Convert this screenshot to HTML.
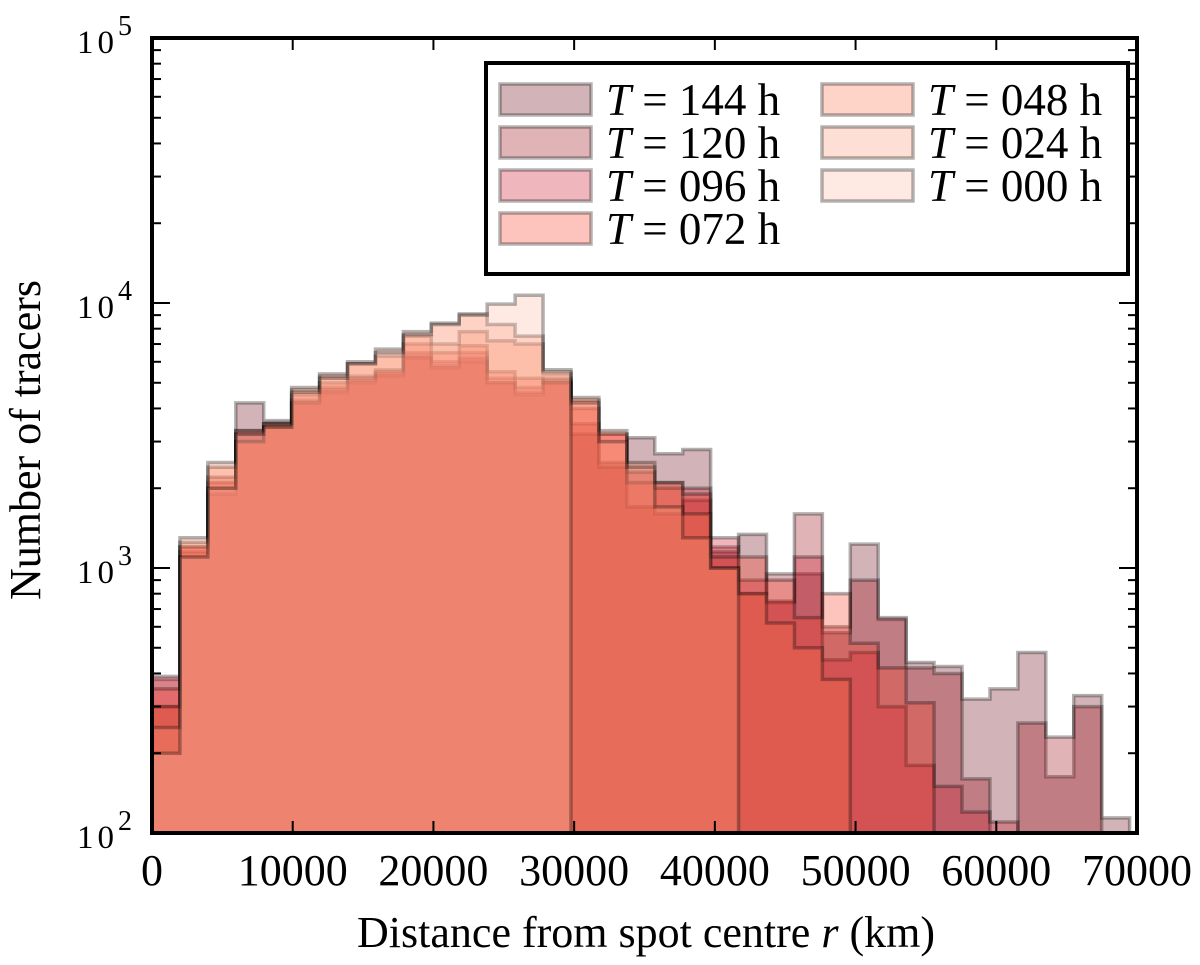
<!DOCTYPE html>
<html><head><meta charset="utf-8"><style>
html,body{margin:0;padding:0;background:#fff;}
svg{display:block;font-family:"Liberation Serif",serif;}
</style></head><body>
<svg width="1200" height="965" viewBox="0 0 1200 965" id="chart">
<defs><clipPath id="plotclip"><rect x="152" y="38" width="985" height="795"/></clipPath></defs>
<g id="series" clip-path="url(#plotclip)"></g>
<g id="ticks"></g>
<rect x="152" y="38" width="985" height="795" fill="none" stroke="#000" stroke-width="4"/>
<g id="labels"></g>
<text x="646" y="947" text-anchor="middle" font-size="44">Distance from spot centre <tspan font-style="italic">r</tspan> (km)</text>
<text transform="translate(40,440) rotate(-90)" text-anchor="middle" font-size="44">Number of tracers</text>
<g id="legend">
<rect x="486" y="63" width="642" height="211" fill="#fff" stroke="#000" stroke-width="4"/>
</g>
</svg>
<script>
const labels = ["T = 144 h","T = 120 h","T = 096 h","T = 072 h","T = 048 h","T = 024 h","T = 000 h"];
const colors = ["#69020f","#980212","#ca1223","#f83723","#fc7048","#fc9473","#ffb9a2"];
const binWidth = 1985;
const t144 = [300,1100,2000,4200,3600,4300,4700,5100,5400,6200,5700,6000,5000,4500,5000,3200,2500,3100,2700,2800,1150,1340,740,950,570,1230,640,440,425,320,350,480,163,330,114];
const t120 = [380,1150,1900,3200,3500,4200,4600,5000,5300,6300,5800,6200,5000,4600,5100,3500,2400,1700,1600,1800,1200,800,950,1600,600,900,650,420,400,160,100,260,230,300];
const t096 = [390,1200,2100,3300,3400,4200,4800,5300,5500,6500,6000,6500,5200,4800,5200,4000,3200,2300,2100,2000,1300,900,750,1100,450,480,300,180,150,120,110];
const t072 = [350,1200,2200,3000,3400,4500,5000,5200,5600,7000,6500,6900,5500,5200,5000,4300,3200,2100,2000,1900,1100,1100,900,650,800,520,420,310];
const t048 = [300,1250,2400,3000,3500,4700,5300,5900,6300,7500,7000,7800,7200,7000,5400,4400,3300,2500,2100,1600,1000,800,620,500,380];
const t024 = [250,1300,2500,3300,3500,4800,5400,6000,6700,7800,8400,9100,8300,7500,5500,4200,3000,2400,1700,1300,1000];
const t000 = [200,1100,2000,3200,3400,4600,5200,5900,6500,7600,8300,9000,9900,10700,5600];
const seriesData = [t144,t120,t096,t072,t048,t024,t000];
const xTicks = [0,10000,20000,30000,40000,50000,60000,70000];
const yDecades = [2,3,4,5];

const NS="http://www.w3.org/2000/svg";
const X0=152,X1=1137,Y0=833,Y1=38;
function xs(v){return X0+v*(X1-X0)/70000;}
function ys(v){return Y0-(Y0-Y1)/3*Math.log10(v/100);}
function mk(tag,attrs,parent){const e=document.createElementNS(NS,tag);for(const k in attrs)e.setAttribute(k,attrs[k]);parent.appendChild(e);return e;}
const gS=document.getElementById('series');
seriesData.forEach((vals,si)=>{
  let d="M"+xs(0)+",900";
  vals.forEach((v,i)=>{const y=ys(Math.max(v,1));d+=" L"+xs(i*binWidth)+","+y+" L"+xs((i+1)*binWidth)+","+y;});
  d+=" L"+xs(vals.length*binWidth)+",900 Z";
  const p=mk('path',{d:d,fill:colors[si],'fill-opacity':0.3,stroke:'#000','stroke-opacity':0.3,'stroke-width':3.5,'stroke-linejoin':'miter'},gS);
  
  
});
const gT=document.getElementById('ticks'), gL=document.getElementById('labels');
xTicks.forEach(t=>{
  const x=xs(t);
  const a=mk('line',{x1:x,y1:Y0,x2:x,y2:Y0-12,stroke:'#000','stroke-width':2},gT);
  
  
  const b=mk('line',{x1:x,y1:Y1,x2:x,y2:Y1+12,stroke:'#000','stroke-width':2},gT);
  
  
  const tx=mk('text',{x:x,y:885,'text-anchor':'middle','font-size':44},gL);
  tx.textContent=String(t);
  
  
});
yDecades.forEach(p=>{
  const y=ys(Math.pow(10,p));
  [[X0,X0+18],[X1,X1-18]].forEach(([a1,a2])=>{
    const l=mk('line',{x1:a1,y1:y,x2:a2,y2:y,stroke:'#000','stroke-width':2},gT);
    
    
  });
  const tx=mk('text',{x:136,y:y+15,'text-anchor':'end','font-size':33,'letter-spacing':'4'},gL);
  tx.innerHTML='10<tspan dy="-18" font-size="28">'+p+'</tspan>';
  
  
  if(p<5){for(let m=2;m<10;m++){const ym=ys(m*Math.pow(10,p));
    [[X0,X0+9],[X1,X1-9]].forEach(([a1,a2])=>{
      const l=mk('line',{x1:a1,y1:ym,x2:a2,y2:ym,stroke:'#000','stroke-width':2},gT);
      
      
    });}}
});
const gLeg=document.getElementById('legend');
labels.forEach((lab,i)=>{
  const col=i<4?0:1,row=i<4?i:i-4;
  const sx=col?822:500, sy=84+row*43;
  const r=mk('rect',{x:sx,y:sy,width:91,height:31,fill:colors[i],'fill-opacity':0.3,stroke:'#000','stroke-opacity':0.3,'stroke-width':3.5},gLeg);
  
  
  const t=mk('text',{x:sx+106,y:sy+31,'font-size':45},gLeg);
  t.innerHTML='<tspan font-style="italic">T</tspan> = '+lab.slice(4);
  
  
});
</script>
</body></html>
